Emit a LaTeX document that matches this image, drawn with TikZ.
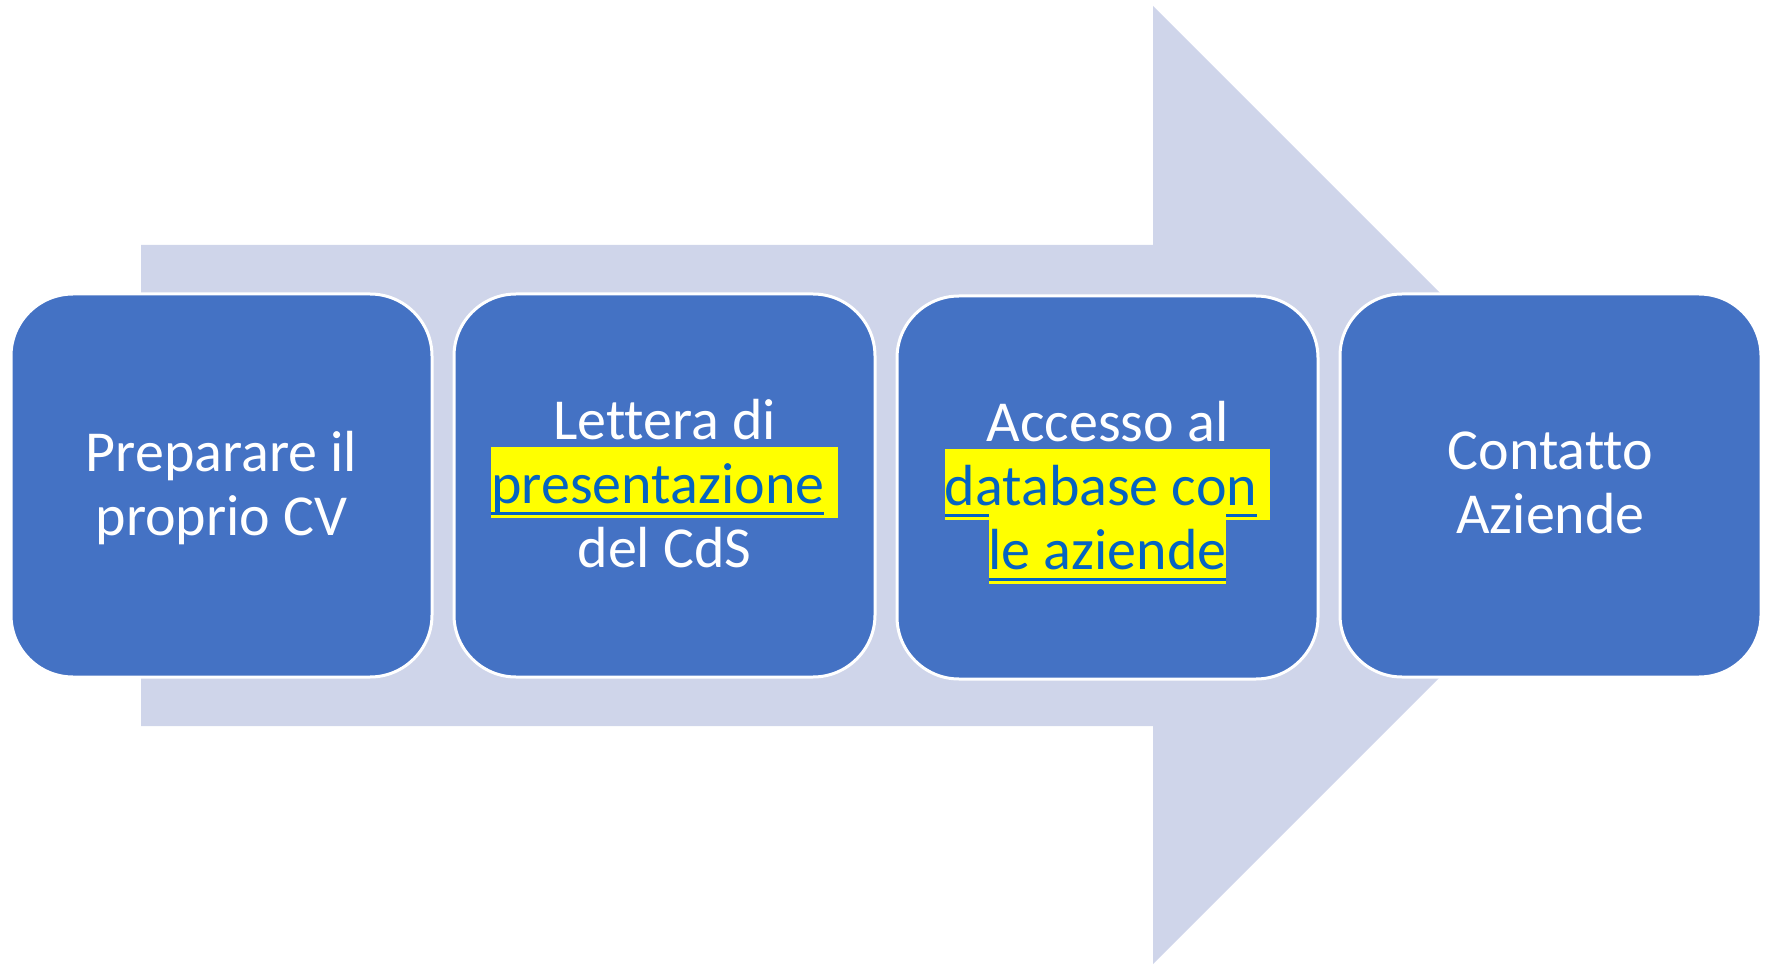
\documentclass[tikz,border=0pt]{standalone}
\usepackage{fontspec}
\setmainfont{Carlito}[Ligatures=NoCommon]
\usepackage{xcolor}
\usepackage{tikz}
\usetikzlibrary{positioning}
\definecolor{boxblue}{HTML}{4472C4}
\definecolor{arrowfill}{HTML}{CFD5EA}
\definecolor{linkblue}{HTML}{0563C1}
\definecolor{hlyellow}{HTML}{FFFF00}
\newsavebox{\lnkbox}
\newcommand{\lnk}[1]{\sbox{\lnkbox}{#1}\rlap{\rule[-12pt]{\wd\lnkbox}{3pt}}\usebox{\lnkbox}}
\newcommand{\hl}[1]{{\setlength{\fboxsep}{0pt}\colorbox{hlyellow}{\rule[-15pt]{0pt}{71pt}\color{linkblue}#1}}}
\newcommand{\stagefont}{\fontsize{58}{64}\selectfont\setlength{\lineskiplimit}{-100pt}}

\begin{document}
\begin{tikzpicture}[x=1pt, y=-1pt,
			stage/.style={rectangle, rounded corners=62pt, draw=white, fill=boxblue, line width=3pt, minimum width=421pt, minimum height=383pt, inner sep=0pt, align=center, text=white, font=\stagefont, text depth=5pt},
			node distance=19pt,
		]

			\useasboundingbox (0,0) rectangle (1770,965);
			\fill[arrowfill] (141,245) -- (1153,245) -- (1153,6) -- (1632,485) -- (1153,964) -- (1153,726) -- (141,726) -- cycle;

			\node[stage] (cv) at (221.5,485.5) {Preparare il\\proprio CV};
			\node[stage] (lettera) [right=of cv] {Lettera di\\\hl{\lnk{presentazione}\ }\\del CdS};
			\node[stage] (accesso) [right=of lettera, yshift=-2pt] {Accesso al\\\hl{\lnk{database con}\ }\\\hl{\lnk{le aziende}}};
			\node[stage] (contatto) [right=of accesso, yshift=2pt] {Contatto\\Aziende};

		\end{tikzpicture}
\end{document}
